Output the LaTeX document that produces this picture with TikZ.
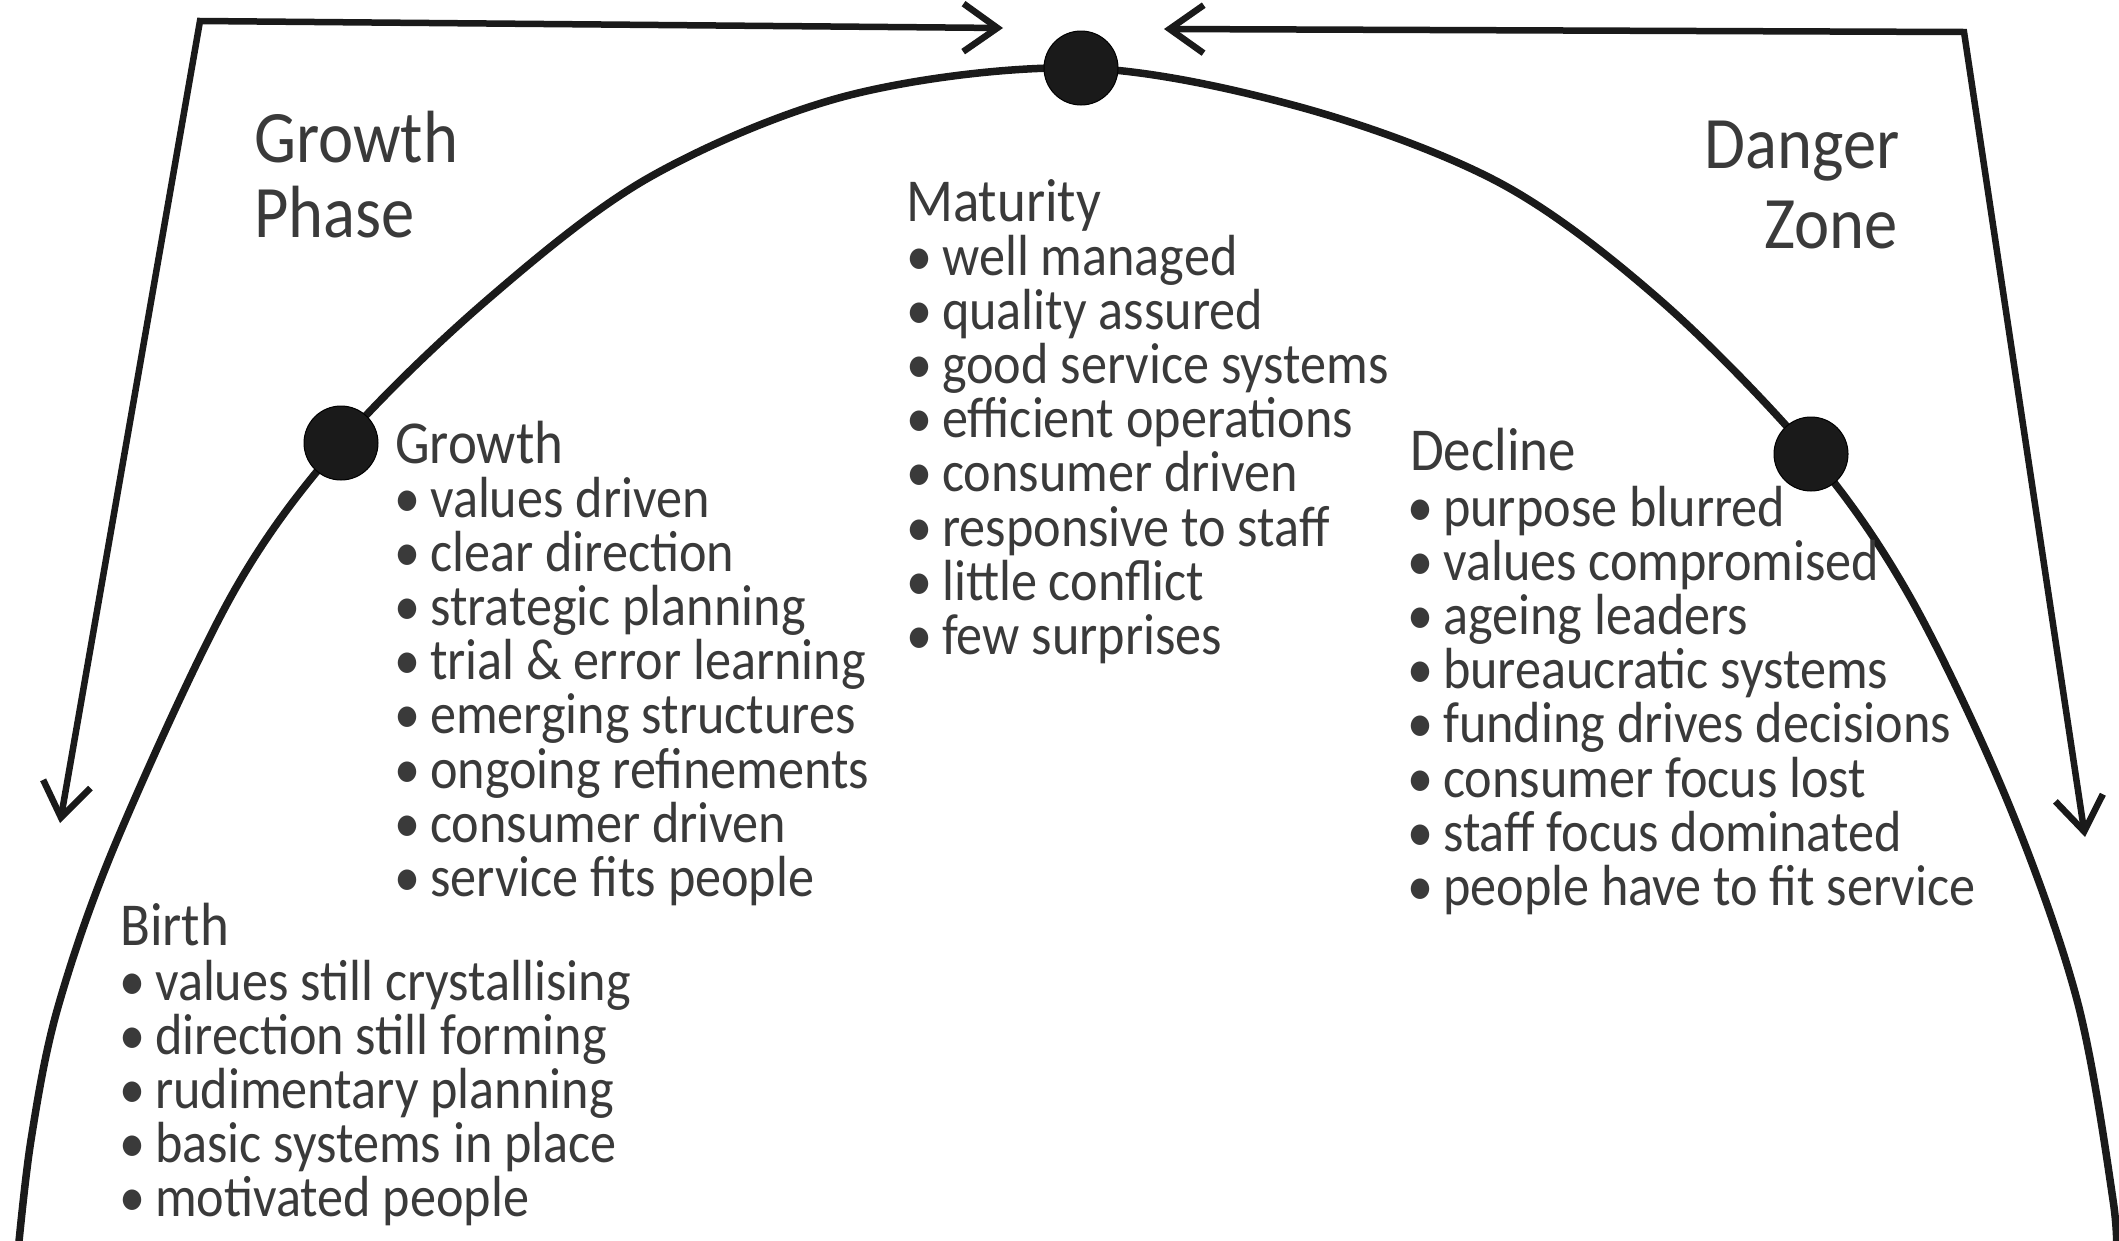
\documentclass[tikz,border=0pt]{standalone}
\usepackage{fontspec}
\setmainfont[FakeStretch=0.9]{Carlito}
\usetikzlibrary{arrows.meta}
\definecolor{ink}{HTML}{1A1A1A}
\definecolor{txt}{HTML}{3A3A3A}
\begin{document}
\begin{tikzpicture}[x=1pt,y=-1pt,
  curve/.style={line width=7.5pt, draw=ink, line cap=butt},
  bracket/.style={line width=6.5pt, draw=ink,
    {Straight Barb[length=34pt,width=48pt]}-{Straight Barb[length=34pt,width=48pt]}},
  stage/.style={circle, fill=ink, draw=black, line width=1pt, minimum size=74pt, inner sep=0pt},
  phase/.style={inner sep=0pt, text=txt, font=\fontsize{74}{75}\selectfont},
  heading/.style={anchor=base west, inner sep=0pt, text=txt, text height=40pt, text depth=8pt,
    font=\fontsize{61}{54}\selectfont},
  item/.style={anchor=base west, inner sep=0pt, text=txt, text height=38pt, text depth=12pt,
    font=\fontsize{58}{54}\selectfont},
]
\fill[white] (0,0) rectangle (2119,1240);
\useasboundingbox (0,0) rectangle (2119,1240);

% points of the life-cycle curve where the stage markers sit
\coordinate (pGrowth)   at (341,443);
\coordinate (pMaturity) at (1081,68);
\coordinate (pDecline)  at (1811,454);
\coordinate (cStart) at (17,1262);
\coordinate (cEnd)   at (2116,1262);

% life-cycle curve
\draw[curve] plot[smooth, tension=0.55] coordinates {
  (cStart) (31,1140) (58,1007) (117,840) (233,593) (pGrowth)
  (487,300) (650,177) (850,95) (pMaturity)
  (1300,107) (1500,183) (1660,300) (pDecline)
  (1910,597) (2007,800) (2077,1000) (2113,1200) (cEnd)};

% markers drawn over the curve
\node[stage] (mGrowth)   at (pGrowth) {};
\node[stage] (mMaturity) at (pMaturity) {};
\node[stage] (mDecline)  at (pDecline) {};

% feedback brackets
\coordinate (lTip)    at (60,823);
\coordinate (lCorner) at (200,21);
\coordinate (lEnd)    at (1003,28);
\coordinate (rEnd)    at (1164,29);
\coordinate (rCorner) at (1964,32);
\coordinate (rTip)    at (2085,837);
\draw[bracket] (lTip) -- (lCorner) -- (lEnd);
\draw[bracket] (rEnd) -- (rCorner) -- (rTip);

% phase labels
\node[phase, anchor=base west] (gp1) at (254,162) {Growth};
\node[phase, anchor=base west] (gp2) at (254,237) {Phase};
\node[phase, anchor=base east] (dz1) at (1900,168) {Danger};
\node[phase, anchor=base east] (dz2) at (1898,248) {Zone};

% Birth
\node[heading] (hBirth) at (120,945) {Birth};
\foreach \t [count=\i] in {values still crystallising, direction still forming,
  rudimentary planning, basic systems in place, motivated people}
  \node[item] (b\i) at (155,{1000+54.2*(\i-1)}) {\llap{\textbullet\kern10pt}\t};

% Growth
\node[heading] (hGrowth) at (395,463) {Growth};
\foreach \t [count=\i] in {values driven, clear direction, strategic planning,
  trial \& error learning, emerging structures, ongoing refinements,
  consumer driven, service fits people}
  \node[item] (g\i) at (430,{517+54.2*(\i-1)}) {\llap{\textbullet\kern10pt}\t};

% Maturity
\node[heading] (hMaturity) at (906,221) {Maturity};
\foreach \t [count=\i] in {well managed, quality assured, good service systems,
  efficient operations, consumer driven, responsive to staff,
  little conflict, few surprises}
  \node[item] (m\i) at (942,{275+54.2*(\i-1)}) {\llap{\textbullet\kern10pt}\t};

% Decline
\node[heading] (hDecline) at (1410,470) {Decline};
\foreach \t [count=\i] in {purpose blurred, values compromised, ageing leaders,
  bureaucratic systems, funding drives decisions, consumer focus lost,
  staff focus dominated, people have to fit service}
  \node[item] (d\i) at (1443,{526+54.2*(\i-1)}) {\llap{\textbullet\kern10pt}\t};
\end{tikzpicture}
\end{document}
